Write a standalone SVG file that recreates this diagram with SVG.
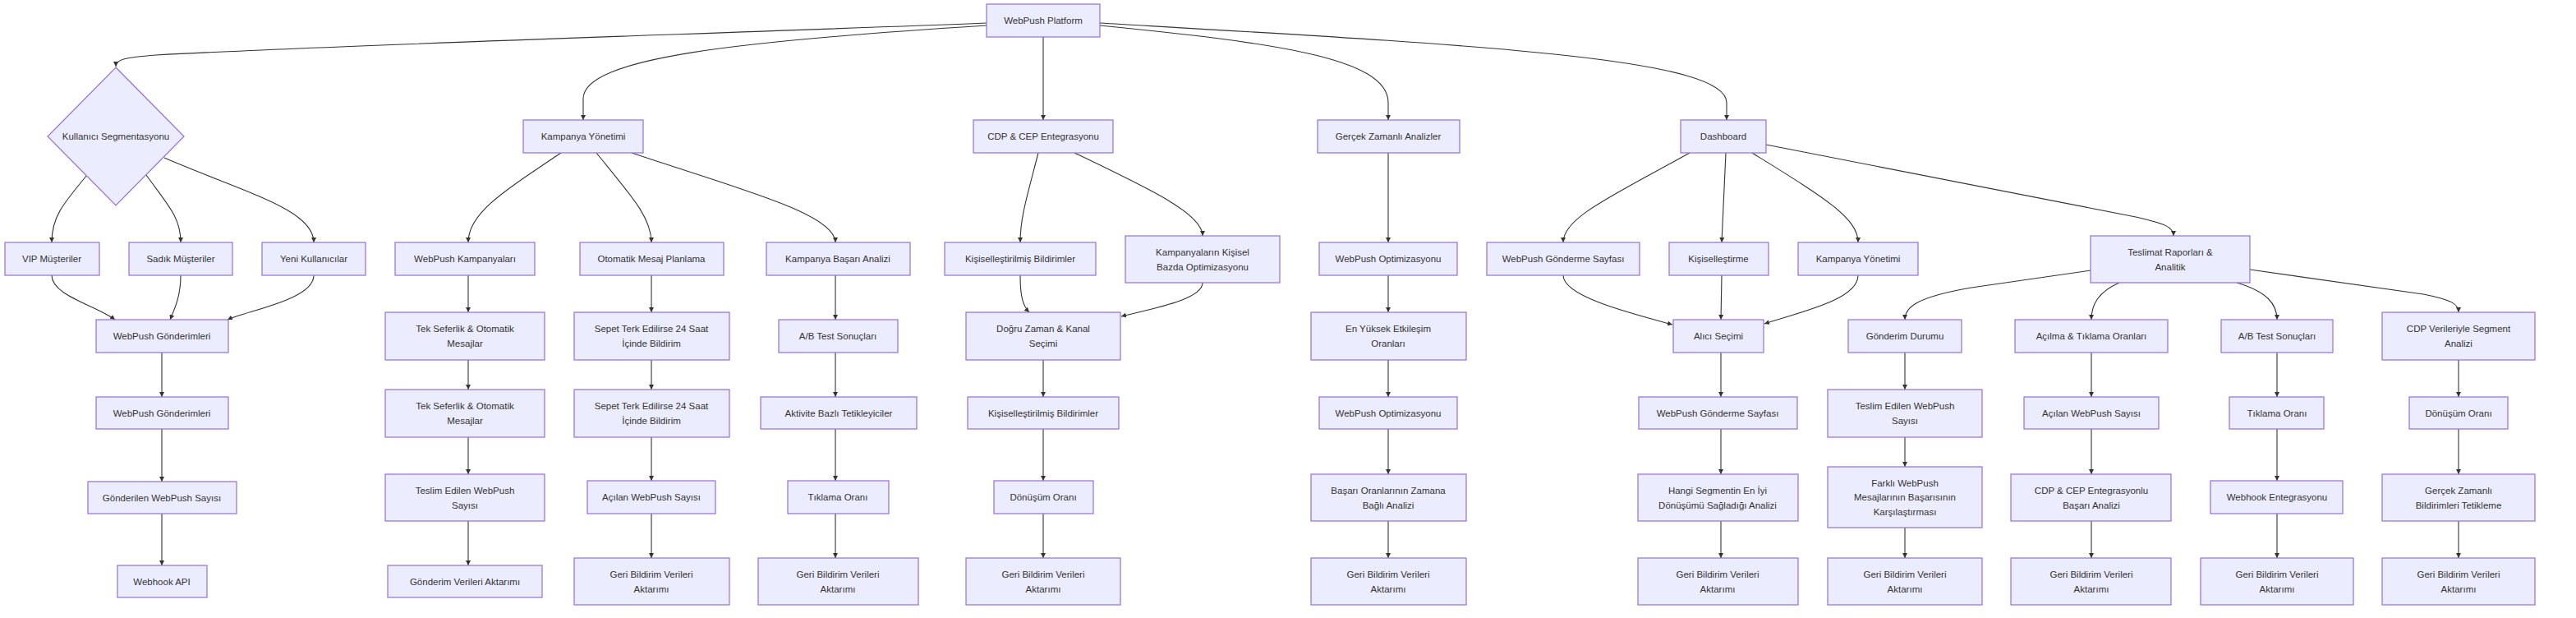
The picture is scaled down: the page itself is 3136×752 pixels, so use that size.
<svg xmlns="http://www.w3.org/2000/svg" width="3136" height="752" viewBox="0 0 3136 752">
<style>
.n rect,.n polygon{fill:#ECECFF;stroke:#9370DB;stroke-width:1.2}
.t{font-family:"Trebuchet MS","Liberation Sans",Arial,sans-serif;font-size:11.5px;fill:#333;text-anchor:middle;dominant-baseline:central}
.e path{fill:none;stroke:#333;stroke-width:1.1;marker-end:url(#arr)}
</style>
<defs>
<marker id="arr" viewBox="0 0 10 10" refX="10" refY="5" markerWidth="6" markerHeight="6" markerUnits="userSpaceOnUse" orient="auto">
<path d="M0,0 L10,5 L0,10 z" fill="#333"/>
</marker>
</defs>
<rect width="3136" height="752" fill="#fff"/>
<g id="connectors" class="e">
<path d="M1201,28 C900,40 400,55 190,67 C152,70 141,72 141,81"/>
<path d="M1201,31 C900,50 710,70 710,120 L710,146"/>
<path d="M1270,45 L1270,146"/>
<path d="M1339,31 C1550,52 1690,70 1690,125 L1690,146"/>
<path d="M1339,28 C1800,55 2102,70 2102,125 L2102,146"/>
<path d="M106,213 C75,250 63,265 63,295"/>
<path d="M178,213 C205,250 220,265 220,295"/>
<path d="M200,192 C300,235 382,255 382,295"/>
<path d="M63,335 C63,360 118,372 140,389"/>
<path d="M220,335 C220,360 213,375 207,389"/>
<path d="M382,335 C382,365 300,378 277,389"/>
<path d="M197,429 L197,483"/>
<path d="M197,522 L197,586"/>
<path d="M197,625 L197,688"/>
<path d="M683,186 C610,235 570,260 570,295"/>
<path d="M726,186 C770,240 793,265 793,295"/>
<path d="M769,186 C900,230 1017,260 1017,295"/>
<path d="M570,335 L570,380"/>
<path d="M570,438 L570,474"/>
<path d="M570,532 L570,577"/>
<path d="M570,634 L570,688"/>
<path d="M793,335 L793,380"/>
<path d="M793,438 L793,474"/>
<path d="M793,532 L793,585"/>
<path d="M793,625 L793,679"/>
<path d="M1017,335 L1017,389"/>
<path d="M1017,429 L1017,483"/>
<path d="M1017,522 L1017,585"/>
<path d="M1017,625 L1017,679"/>
<path d="M1264,186 C1250,240 1242,265 1242,295"/>
<path d="M1308,186 C1400,230 1464,260 1464,287"/>
<path d="M1242,335 C1242,360 1245,372 1253,380"/>
<path d="M1464,344 C1464,365 1400,376 1365,385"/>
<path d="M1270,438 L1270,483"/>
<path d="M1270,522 L1270,585"/>
<path d="M1270,625 L1270,679"/>
<path d="M1690,186 L1690,295"/>
<path d="M1690,335 L1690,380"/>
<path d="M1690,438 L1690,483"/>
<path d="M1690,522 L1690,577"/>
<path d="M1690,634 L1690,679"/>
<path d="M2057,186 C1960,240 1903,265 1903,295"/>
<path d="M2101,186 L2096,295"/>
<path d="M2133,186 C2220,240 2262,265 2262,295"/>
<path d="M2150,176 L2600,264 C2635,272 2646,276 2646,287"/>
<path d="M1903,335 C1903,360 1980,380 2036,395"/>
<path d="M2096,335 L2095,389"/>
<path d="M2262,335 C2262,365 2190,380 2148,394"/>
<path d="M2095,429 L2095,483"/>
<path d="M2095,522 L2095,577"/>
<path d="M2095,634 L2095,679"/>
<path d="M2545,329 L2400,350 C2330,362 2319,375 2319,389"/>
<path d="M2580,344 C2555,355 2546,370 2546,389"/>
<path d="M2723,344 C2760,355 2772,370 2772,389"/>
<path d="M2739,328 L2950,358 C2985,365 2993,370 2993,380"/>
<path d="M2319,429 L2319,474"/>
<path d="M2319,532 L2319,568"/>
<path d="M2319,642 L2319,679"/>
<path d="M2546,429 L2546,483"/>
<path d="M2546,522 L2546,577"/>
<path d="M2546,634 L2546,679"/>
<path d="M2772,429 L2772,483"/>
<path d="M2772,522 L2772,585"/>
<path d="M2772,625 L2772,679"/>
<path d="M2993,438 L2993,483"/>
<path d="M2993,522 L2993,577"/>
<path d="M2993,634 L2993,679"/>
</g>
<g id="platform" class="n"><rect x="1201" y="5" width="138" height="40"/><text class="t" x="1270" y="25">WebPush Platform</text></g>
<g id="segment" class="n"><polygon points="141,82 224,166 141,250 58,166"/><text class="t" x="141" y="166">Kullanıcı Segmentasyonu</text></g>
<g id="kampanya" class="n"><rect x="637" y="146" width="146" height="40"/><text class="t" x="710" y="166">Kampanya Yönetimi</text></g>
<g id="cdp" class="n"><rect x="1185" y="146" width="170" height="40"/><text class="t" x="1270" y="166">CDP &amp; CEP Entegrasyonu</text></g>
<g id="gza" class="n"><rect x="1604" y="146" width="173" height="40"/><text class="t" x="1690" y="166">Gerçek Zamanlı Analizler</text></g>
<g id="dashboard" class="n"><rect x="2046" y="146" width="104" height="40"/><text class="t" x="2098" y="166">Dashboard</text></g>

<g id="vip" class="n"><rect x="6" y="295" width="115" height="40"/><text class="t" x="63" y="315">VIP Müşteriler</text></g>
<g id="sadik" class="n"><rect x="157" y="295" width="126" height="40"/><text class="t" x="220" y="315">Sadık Müşteriler</text></g>
<g id="yeni" class="n"><rect x="319" y="295" width="126" height="40"/><text class="t" x="382" y="315">Yeni Kullanıcılar</text></g>
<g id="wpk" class="n"><rect x="481" y="295" width="170" height="40"/><text class="t" x="566" y="315">WebPush Kampanyaları</text></g>
<g id="oto" class="n"><rect x="706" y="295" width="175" height="40"/><text class="t" x="793" y="315">Otomatik Mesaj Planlama</text></g>
<g id="kba" class="n"><rect x="933" y="295" width="175" height="40"/><text class="t" x="1020" y="315">Kampanya Başarı Analizi</text></g>
<g id="kis1" class="n"><rect x="1150" y="295" width="184" height="40"/><text class="t" x="1242" y="315">Kişiselleştirilmiş Bildirimler</text></g>
<g id="kko" class="n"><rect x="1370" y="287" width="188" height="57"/><text class="t"><tspan x="1464" y="306.5">Kampanyaların Kişisel</tspan><tspan x="1464" y="324.5">Bazda Optimizasyonu</tspan></text></g>
<g id="wpo1" class="n"><rect x="1606" y="295" width="168" height="40"/><text class="t" x="1690" y="315">WebPush Optimizasyonu</text></g>
<g id="wgs1" class="n"><rect x="1810" y="295" width="186" height="40"/><text class="t" x="1903" y="315">WebPush Gönderme Sayfası</text></g>
<g id="kisl" class="n"><rect x="2032" y="295" width="121" height="40"/><text class="t" x="2092" y="315">Kişiselleştirme</text></g>
<g id="ky2" class="n"><rect x="2189" y="295" width="146" height="40"/><text class="t" x="2262" y="315">Kampanya Yönetimi</text></g>
<g id="tra" class="n"><rect x="2545" y="287" width="194" height="57"/><text class="t"><tspan x="2642" y="306.5">Teslimat Raporları &amp;</tspan><tspan x="2642" y="324.5">Analitik</tspan></text></g>

<g id="wpg1" class="n"><rect x="117" y="389" width="161" height="40"/><text class="t" x="197" y="409">WebPush Gönderimleri</text></g>
<g id="tek1" class="n"><rect x="469" y="380" width="194" height="58"/><text class="t"><tspan x="566" y="400">Tek Seferlik &amp; Otomatik</tspan><tspan x="566" y="418">Mesajlar</tspan></text></g>
<g id="sep1" class="n"><rect x="699" y="380" width="189" height="58"/><text class="t"><tspan x="793" y="400">Sepet Terk Edilirse 24 Saat</tspan><tspan x="793" y="418">İçinde Bildirim</tspan></text></g>
<g id="ab1" class="n"><rect x="948" y="389" width="145" height="40"/><text class="t" x="1020" y="409">A/B Test Sonuçları</text></g>
<g id="dogru" class="n"><rect x="1176" y="380" width="188" height="58"/><text class="t"><tspan x="1270" y="400">Doğru Zaman &amp; Kanal</tspan><tspan x="1270" y="418">Seçimi</tspan></text></g>
<g id="eny" class="n"><rect x="1596" y="380" width="189" height="58"/><text class="t"><tspan x="1690" y="400">En Yüksek Etkileşim</tspan><tspan x="1690" y="418">Oranları</tspan></text></g>
<g id="alici" class="n"><rect x="2037" y="389" width="110" height="40"/><text class="t" x="2092" y="409">Alıcı Seçimi</text></g>
<g id="gdur" class="n"><rect x="2250" y="389" width="138" height="40"/><text class="t" x="2319" y="409">Gönderim Durumu</text></g>
<g id="acil" class="n"><rect x="2453" y="389" width="186" height="40"/><text class="t" x="2546" y="409">Açılma &amp; Tıklama Oranları</text></g>
<g id="ab2" class="n"><rect x="2704" y="389" width="136" height="40"/><text class="t" x="2772" y="409">A/B Test Sonuçları</text></g>
<g id="cdpv" class="n"><rect x="2900" y="380" width="186" height="58"/><text class="t"><tspan x="2993" y="400">CDP Verileriyle Segment</tspan><tspan x="2993" y="418">Analizi</tspan></text></g>

<g id="wpg2" class="n"><rect x="117" y="483" width="161" height="39"/><text class="t" x="197" y="502.5">WebPush Gönderimleri</text></g>
<g id="tek2" class="n"><rect x="469" y="474" width="194" height="58"/><text class="t"><tspan x="566" y="494">Tek Seferlik &amp; Otomatik</tspan><tspan x="566" y="512">Mesajlar</tspan></text></g>
<g id="sep2" class="n"><rect x="699" y="474" width="189" height="58"/><text class="t"><tspan x="793" y="494">Sepet Terk Edilirse 24 Saat</tspan><tspan x="793" y="512">İçinde Bildirim</tspan></text></g>
<g id="akt" class="n"><rect x="926" y="483" width="190" height="39"/><text class="t" x="1021" y="502.5">Aktivite Bazlı Tetikleyiciler</text></g>
<g id="kis2" class="n"><rect x="1178" y="483" width="184" height="39"/><text class="t" x="1270" y="502.5">Kişiselleştirilmiş Bildirimler</text></g>
<g id="wpo2" class="n"><rect x="1606" y="483" width="168" height="39"/><text class="t" x="1690" y="502.5">WebPush Optimizasyonu</text></g>
<g id="wgs2" class="n"><rect x="1995" y="483" width="193" height="39"/><text class="t" x="2091" y="502.5">WebPush Gönderme Sayfası</text></g>
<g id="tes2" class="n"><rect x="2225" y="474" width="188" height="58"/><text class="t"><tspan x="2319" y="494">Teslim Edilen WebPush</tspan><tspan x="2319" y="512">Sayısı</tspan></text></g>
<g id="acws2" class="n"><rect x="2464" y="483" width="164" height="39"/><text class="t" x="2546" y="502.5">Açılan WebPush Sayısı</text></g>
<g id="tik2" class="n"><rect x="2714" y="483" width="115" height="39"/><text class="t" x="2772" y="502.5">Tıklama Oranı</text></g>
<g id="don2" class="n"><rect x="2933" y="483" width="120" height="39"/><text class="t" x="2993" y="502.5">Dönüşüm Oranı</text></g>

<g id="gws" class="n"><rect x="107" y="586" width="181" height="39"/><text class="t" x="197" y="605.5">Gönderilen WebPush Sayısı</text></g>
<g id="tes1" class="n"><rect x="469" y="577" width="194" height="57"/><text class="t"><tspan x="566" y="596.5">Teslim Edilen WebPush</tspan><tspan x="566" y="614.5">Sayısı</tspan></text></g>
<g id="acw1" class="n"><rect x="715" y="585" width="156" height="40"/><text class="t" x="793" y="605">Açılan WebPush Sayısı</text></g>
<g id="tik1" class="n"><rect x="959" y="585" width="123" height="40"/><text class="t" x="1020" y="605">Tıklama Oranı</text></g>
<g id="don1" class="n"><rect x="1210" y="585" width="121" height="40"/><text class="t" x="1270" y="605">Dönüşüm Oranı</text></g>
<g id="bas" class="n"><rect x="1596" y="577" width="189" height="57"/><text class="t"><tspan x="1690" y="596.5">Başarı Oranlarının Zamana</tspan><tspan x="1690" y="614.5">Bağlı Analizi</tspan></text></g>
<g id="hangi" class="n"><rect x="1994" y="577" width="195" height="57"/><text class="t"><tspan x="2091" y="596.5">Hangi Segmentin En İyi</tspan><tspan x="2091" y="614.5">Dönüşümü Sağladığı Analizi</tspan></text></g>
<g id="farkli" class="n"><rect x="2225" y="568" width="188" height="74"/><text class="t"><tspan x="2319" y="587.5">Farklı WebPush</tspan><tspan x="2319" y="605">Mesajlarının Başarısının</tspan><tspan x="2319" y="622.5">Karşılaştırması</tspan></text></g>
<g id="cdpb" class="n"><rect x="2448" y="577" width="195" height="57"/><text class="t"><tspan x="2546" y="596.5">CDP &amp; CEP Entegrasyonlu</tspan><tspan x="2546" y="614.5">Başarı Analizi</tspan></text></g>
<g id="whe" class="n"><rect x="2691" y="585" width="161" height="40"/><text class="t" x="2772" y="605">Webhook Entegrasyonu</text></g>
<g id="gzb" class="n"><rect x="2900" y="577" width="186" height="57"/><text class="t"><tspan x="2993" y="596.5">Gerçek Zamanlı</tspan><tspan x="2993" y="614.5">Bildirimleri Tetikleme</tspan></text></g>

<g id="wapi" class="n"><rect x="143" y="688" width="109" height="39"/><text class="t" x="197" y="707.5">Webhook API</text></g>
<g id="gva" class="n"><rect x="472" y="688" width="188" height="39"/><text class="t" x="566" y="707.5">Gönderim Verileri Aktarımı</text></g>
<g id="geri1" class="n"><rect x="699" y="679" width="189" height="57"/><text class="t"><tspan x="793" y="698.5">Geri Bildirim Verileri</tspan><tspan x="793" y="716.5">Aktarımı</tspan></text></g>
<g id="geri2" class="n"><rect x="923" y="679" width="195" height="57"/><text class="t"><tspan x="1020" y="698.5">Geri Bildirim Verileri</tspan><tspan x="1020" y="716.5">Aktarımı</tspan></text></g>
<g id="geri3" class="n"><rect x="1176" y="679" width="188" height="57"/><text class="t"><tspan x="1270" y="698.5">Geri Bildirim Verileri</tspan><tspan x="1270" y="716.5">Aktarımı</tspan></text></g>
<g id="geri4" class="n"><rect x="1596" y="679" width="189" height="57"/><text class="t"><tspan x="1690" y="698.5">Geri Bildirim Verileri</tspan><tspan x="1690" y="716.5">Aktarımı</tspan></text></g>
<g id="geri5" class="n"><rect x="1994" y="679" width="195" height="57"/><text class="t"><tspan x="2091" y="698.5">Geri Bildirim Verileri</tspan><tspan x="2091" y="716.5">Aktarımı</tspan></text></g>
<g id="geri6" class="n"><rect x="2225" y="679" width="188" height="57"/><text class="t"><tspan x="2319" y="698.5">Geri Bildirim Verileri</tspan><tspan x="2319" y="716.5">Aktarımı</tspan></text></g>
<g id="geri7" class="n"><rect x="2448" y="679" width="195" height="57"/><text class="t"><tspan x="2546" y="698.5">Geri Bildirim Verileri</tspan><tspan x="2546" y="716.5">Aktarımı</tspan></text></g>
<g id="geri8" class="n"><rect x="2679" y="679" width="186" height="57"/><text class="t"><tspan x="2772" y="698.5">Geri Bildirim Verileri</tspan><tspan x="2772" y="716.5">Aktarımı</tspan></text></g>
<g id="geri9" class="n"><rect x="2900" y="679" width="186" height="57"/><text class="t"><tspan x="2993" y="698.5">Geri Bildirim Verileri</tspan><tspan x="2993" y="716.5">Aktarımı</tspan></text></g>
</svg>
